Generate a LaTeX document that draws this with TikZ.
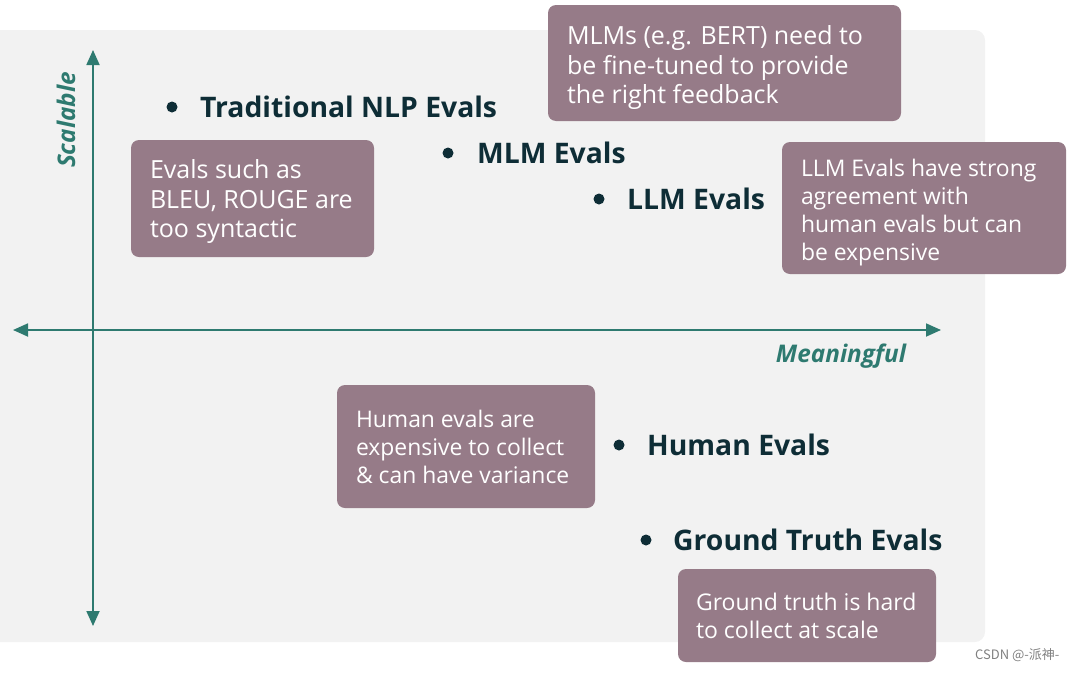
\documentclass[tikz,border=0pt]{standalone}
\usepackage{fontspec}
\setmainfont{Open Sans}
\newfontfamily\cjkwm{Noto Sans CJK SC}
\usetikzlibrary{arrows.meta}
\definecolor{bgc}{RGB}{242,242,242}
\definecolor{boxc}{RGB}{150,123,136}
\definecolor{axc}{RGB}{46,122,112}
\definecolor{darkc}{RGB}{14,45,54}
\tikzset{
  x=1pt,y=-1pt,
  box/.style={draw=none,fill=boxc,rounded corners=8pt,inner sep=0pt},
  boxtext/.style={anchor=north west,text=white,align=left,inner sep=0pt,font=\fontsize{25}{29.5}\selectfont},
  dot/.style={circle,fill=darkc,inner sep=0pt,minimum size=11pt},
  lab/.style={anchor=west,text=darkc,inner sep=0pt,font=\fontsize{28.3}{32}\selectfont\bfseries},
  axis/.style={draw=axc,line width=1.8pt,{Triangle[length=15pt,width=13pt]}-{Triangle[length=15pt,width=13pt]}},
  axlab/.style={text=axc,inner sep=0pt,font=\fontsize{24.3}{28}\selectfont\bfseries\itshape}
}
\begin{document}
\begin{tikzpicture}
\useasboundingbox (0,0) rectangle (1075,672);
\fill[bgc,rounded corners=10pt] (-15,30) rectangle (985,642);
% axes
\coordinate (vt) at (93,50);
\coordinate (vb) at (93,626);
\coordinate (hl) at (13,330);
\coordinate (hr) at (941,330);
\draw[axis] (vb) -- (vt);
\draw[axis] (hl) -- (hr);
\node[axlab,rotate=90] (scal) at (66,120) {Scalable};
\node[axlab] (mean) at (841,356) {Meaningful};
% points
\node[dot] (d1) at (172,107) {};
\node[lab] (l1) at (200,107) {Traditional NLP Evals};
\node[dot] (d2) at (448,153) {};
\node[lab] (l2) at (477,153) {MLM Evals};
\node[dot] (d3) at (599,199) {};
\node[lab] (l3) at (627,199) {LLM Evals};
\node[dot] (d4) at (619,445) {};
\node[lab] (l4) at (647,445) {Human Evals};
\node[dot] (d5) at (646,540) {};
\node[lab] (l5) at (673,540) {Ground Truth Evals};
% boxes
\node[box,minimum width=243pt,minimum height=117pt] (b1) at (252.5,198.5) {};
\node[boxtext] (t1) at ([xshift=19pt,yshift=-20pt]b1.north west) {Evals such as\\BLEU, ROUGE are\\too syntactic};
\node[box,minimum width=353pt,minimum height=116pt] (b2) at (724.5,63) {};
\node[boxtext] (t2) at ([xshift=19pt,yshift=-21pt]b2.north west) {MLMs (e.g. BERT) need to\\be fine-tuned to provide\\the right feedback};
\node[box,minimum width=284pt,minimum height=132pt] (b3) at (924,208) {};
\node[boxtext,font=\fontsize{22.9}{28}\selectfont] (t3) at ([xshift=19pt,yshift=-17pt]b3.north west) {LLM Evals have strong\\agreement with\\human evals but can\\be expensive};
\node[box,minimum width=258pt,minimum height=123pt] (b4) at (466,446.5) {};
\node[boxtext,font=\fontsize{22.9}{28}\selectfont] (t4) at ([xshift=19pt,yshift=-25pt]b4.north west) {Human evals are\\expensive to collect\\\& can have variance};
\node[box,minimum width=258pt,minimum height=93pt] (b5) at (807,615.5) {};
\node[boxtext,font=\fontsize{23}{28}\selectfont] (t5) at ([xshift=18pt,yshift=-24pt]b5.north west) {Ground truth is hard\\to collect at scale};
% watermark
\node[anchor=west,inner sep=0pt,text=gray,font=\cjkwm\fontsize{13}{15}\selectfont] (wm) at (975,655) {CSDN @-派神-};
\end{tikzpicture}
\end{document}
